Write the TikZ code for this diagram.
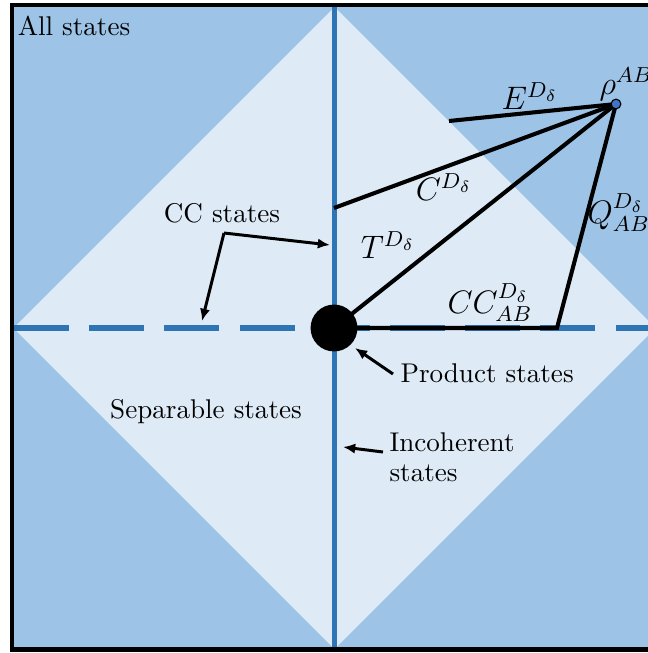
\documentclass[tikz,border=0pt]{standalone}
\usetikzlibrary{arrows.meta}
\definecolor{outerblue}{HTML}{9DC3E6}
\definecolor{innerblue}{HTML}{DEEBF7}
\definecolor{lineblue}{HTML}{2E75B6}
\definecolor{dotblue}{HTML}{4472C4}
\begin{document}
\begin{tikzpicture}[x=0.369pt,y=-0.369pt,
  axisline/.style={lineblue, line width=2.2pt},
  conn/.style={black, line width=1.5pt, line join=miter},
  arr/.style={black, line width=1.1pt, -{Latex[length=4.5pt,width=3.8pt]}},
  txt/.style={inner sep=0pt, font=\fontsize{10}{11.3}\selectfont},
  mlab/.style={inner sep=0pt, font=\large},
  bigdot/.style={circle, fill=black, minimum size=17.3pt, inner sep=0pt},
  rhodot/.style={circle, fill=dotblue, draw=black, line width=0.4pt, minimum size=3.6pt, inner sep=0pt}]
\useasboundingbox (0,0) rectangle (648,653);
\clip (0,0) rectangle (648,653);
% background
\fill[outerblue] (12,5) rectangle (656.5,649.5);
\fill[innerblue] (334.5,7) -- (13.5,328) -- (334.5,649) -- (655.5,328) -- cycle;
\draw[axisline, dash pattern=on 20.3pt off 7.45pt] (14,328) -- (670,328);
\draw[axisline] (334.5,7) -- (334.5,649);
\draw[line width=1.5pt] (12,5) rectangle (656.5,649.5);
% coordinates
\coordinate (rhoc) at (616,104);
\coordinate (pc) at (334,328);
\coordinate (e1) at (449,121);
\coordinate (c1) at (334,208);
\coordinate (q1) at (557,328);
% distance lines
\draw[conn] (e1) -- (rhoc);
\draw[conn] (c1) -- (rhoc);
\draw[conn] (pc) -- (rhoc);
\draw[conn] (rhoc) -- (q1) -- (pc);
% points
\node[bigdot] (p) at (pc) {};
\node[rhodot] (rho) at (rhoc) {};
% math labels
\node[mlab] (lE) at (530,96) {$E^{D_\delta}$};
\node[mlab, anchor=base west] (lrho) at (599,94) {$\rho^{AB}$};
\node[mlab] (lC) at (444,187) {$C^{D_\delta}$};
\node[mlab] (lT) at (388,245) {$T^{D_\delta}$};
\node[mlab, anchor=west] (lQ) at (587,213) {$Q^{D_\delta}_{AB}$};
\node[mlab] (lCC) at (490,303) {$CC^{D_\delta}_{AB}$};
% text labels
\node[txt] (all) at (74,26) {All states};
\node[txt] (cc) at (222,213) {CC states};
\node[txt, anchor=west] (prod) at (400,373) {Product states};
\node[txt, anchor=north west, align=left] (inc) at (389,432) {Incoherent\\states};
\node[txt] (sep) at (206,412) {Separable states};
% arrows
\coordinate (ccc) at (224,233);
\coordinate (cctip1) at (330,245);
\coordinate (cctip2) at (202,321);
\draw[arr] (ccc) -- (cctip1);
\draw[arr] (ccc) -- (cctip2);
\coordinate (prodtail) at (393,374);
\coordinate (prodtip) at (355,348);
\draw[arr] (prodtail) -- (prodtip);
\coordinate (inctail) at (383,452);
\coordinate (inctip) at (343,447);
\draw[arr] (inctail) -- (inctip);
\end{tikzpicture}
\end{document}
